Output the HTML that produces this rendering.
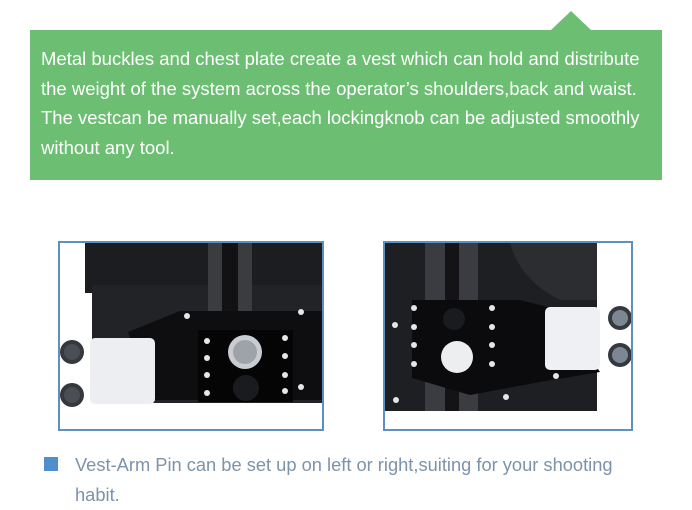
<!DOCTYPE html>
<html><head><meta charset="utf-8"><style>
body{margin:0;width:692px;height:507px;background:#fff;overflow:hidden;position:relative;font-family:"Liberation Sans",sans-serif}
.box{position:absolute;left:30px;top:30px;width:632px;height:150px;background:#6cbf72}
.tri{position:absolute;left:551px;top:11px;width:0;height:0;border-left:20px solid transparent;border-right:20px solid transparent;border-bottom:19px solid #6cbf72}
.txt{position:absolute;left:41px;top:44px;width:640px;color:#fff;font-size:18.5px;line-height:29.5px;white-space:nowrap}
.bul{position:absolute;left:44px;top:457px;width:14px;height:14px;background:#4f8fcc}
.t2{position:absolute;left:75px;top:450px;color:#7d93aa;font-size:18.3px;line-height:30px;white-space:nowrap}
svg{position:absolute;left:0;top:0}
</style></head><body>
<div class="tri"></div>
<div class="box"></div>
<div class="txt">Metal buckles and chest plate create a vest which can hold and distribute<br>the weight of the system across the operator’s shoulders,back and waist.<br>The vestcan be manually set,each lockingknob can be adjusted smoothly<br>without any tool.</div>
<svg width="692" height="507">
<rect x="85" y="243" width="237" height="50" fill="#1c1d20"/>
<rect x="92" y="285" width="230" height="118" fill="#222326"/>
<rect x="208" y="243" width="44" height="90" fill="#3a3c40"/>
<rect x="222" y="243" width="16" height="90" fill="#121214"/>
<polygon points="128,332 180,311 322,311 322,400 150,400" fill="#0e0e10"/>
<rect x="198" y="330" width="95" height="72" fill="#050506"/>
<rect x="90" y="338" width="65" height="66" rx="5" fill="#eceef2"/>
<circle cx="72" cy="352" r="12" fill="#35383d"/><circle cx="72" cy="352" r="8" fill="#4a4e55"/>
<circle cx="72" cy="395" r="12" fill="#35383d"/><circle cx="72" cy="395" r="8" fill="#4a4e55"/>
<circle cx="245" cy="352" r="17" fill="#c9ccd1"/><circle cx="245" cy="352" r="12" fill="#9ea3aa"/>
<circle cx="246" cy="388" r="13" fill="#1a1b1e"/>
<g fill="#e6e6e6"><circle cx="207" cy="341" r="3"/><circle cx="207" cy="358" r="3"/><circle cx="207" cy="375" r="3"/><circle cx="207" cy="393" r="3"/><circle cx="285" cy="338" r="3"/><circle cx="285" cy="356" r="3"/><circle cx="285" cy="375" r="3"/><circle cx="285" cy="391" r="3"/><circle cx="187" cy="316" r="3"/><circle cx="301" cy="312" r="3"/><circle cx="301" cy="387" r="3"/></g>
<rect x="59" y="242" width="264" height="188" fill="none" stroke="#5d8fbf" stroke-width="2"/>
<rect x="385" y="243" width="212" height="168" fill="#1e1f22"/>
<path d="M510 243 L597 243 L597 300 L560 300 Q520 280 510 243Z" fill="#2b2d31"/>
<rect x="425" y="243" width="53" height="168" fill="#3a3c41"/>
<rect x="445" y="243" width="14" height="168" fill="#141416"/>
<polygon points="412,300 520,300 560,310 600,372 540,382 470,395 412,378" fill="#0b0b0d"/>
<rect x="545" y="307" width="55" height="63" rx="5" fill="#eef0f3"/>
<circle cx="620" cy="318" r="12" fill="#35383d"/><circle cx="620" cy="318" r="8" fill="#7d8794"/>
<circle cx="620" cy="355" r="12" fill="#35383d"/><circle cx="620" cy="355" r="8" fill="#7d8794"/>
<circle cx="457" cy="357" r="16" fill="#eceef0"/>
<circle cx="454" cy="319" r="11" fill="#1a1b1e"/>
<g fill="#e6e6e6"><circle cx="414" cy="308" r="3"/><circle cx="414" cy="327" r="3"/><circle cx="414" cy="345" r="3"/><circle cx="414" cy="364" r="3"/><circle cx="492" cy="308" r="3"/><circle cx="492" cy="327" r="3"/><circle cx="492" cy="345" r="3"/><circle cx="492" cy="364" r="3"/><circle cx="395" cy="325" r="3"/><circle cx="396" cy="400" r="3"/><circle cx="506" cy="397" r="3"/><circle cx="556" cy="376" r="3"/></g>
<rect x="384" y="242" width="248" height="188" fill="none" stroke="#5d8fbf" stroke-width="2"/>
</svg>
<div class="bul"></div>
<div class="t2">Vest-Arm Pin can be set up on left or right,suiting for your shooting<br>habit.</div>
</body></html>
